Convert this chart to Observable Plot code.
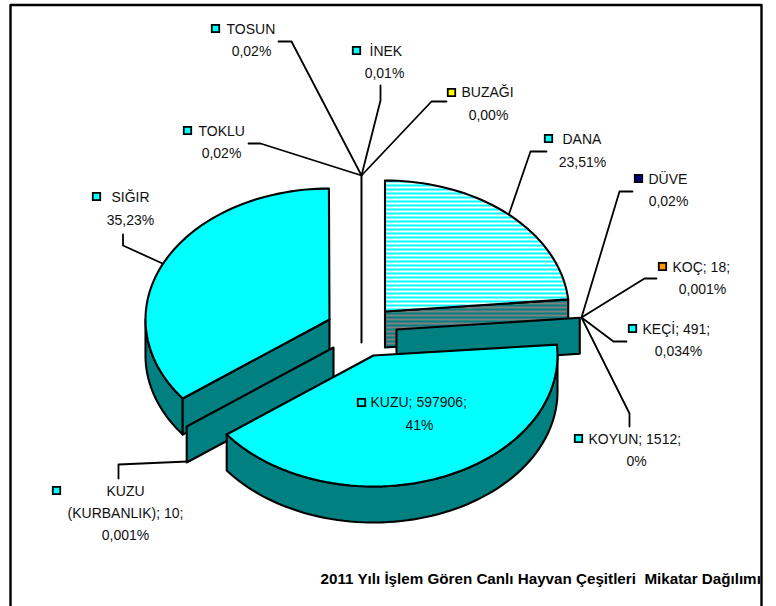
<!DOCTYPE html>
<html><head><meta charset="utf-8">
<script src="https://cdn.jsdelivr.net/npm/d3@7"></script>
<script src="https://cdn.jsdelivr.net/npm/@observablehq/plot@0.6"></script>
<style>html,body{margin:0;padding:0;background:#fff}svg{display:block}</style>
</head><body><div id="chart"></div>
<script>
// Data: slice order follows the pie, clockwise from 12 o'clock
const categories = ["DANA","DÜVE","KOÇ","KEÇİ","KOYUN","KUZU","KUZU (KURBANLIK)","SIĞIR","TOKLU","TOSUN","İNEK","BUZAĞI"];
const shares = [23.51,0.02,0.001,0.034,0.104,41,0.001,35.23,0.02,0.02,0.01,0.001];
const keyColors = ["#00ffff","#000080","#ff9900","#00ffff","#00ffff","#00ffff","#00ffff","#00ffff","#00ffff","#00ffff","#00ffff","#ffff00"];

// Layout
const W = 776, H = 606, rx = 184, ry = 131, depth = 36;
const explodeCenters = [[384.5,311],[396,329],[396,329],[396,329],[396,329],[373,355],[333,347],[329,319],[361,306],[361,306],[361,306],[361,306]];
const labelLines = [
  [[562,139,"start","DANA"],[582,162,"middle","23,51%"]],
  [[648,179,"start","DÜVE"],[668,201,"middle","0,02%"]],
  [[672,267,"start","KOÇ; 18;"],[702,289,"middle","0,001%"]],
  [[642,329,"start","KEÇİ; 491;"],[678,351,"middle","0,034%"]],
  [[588,439,"start","KOYUN; 1512;"],[636,461,"middle","0%"]],
  [[370,402,"start","KUZU; 597906;"],[419,425,"middle","41%"]],
  [[125,491,"middle","KUZU"],[125,513,"middle","(KURBANLIK); 10;"],[125,535,"middle","0,001%"]],
  [[111,197,"start","SIĞIR"],[130,220,"middle","35,23%"]],
  [[198,131,"start","TOKLU"],[221,153,"middle","0,02%"]],
  [[226,29,"start","TOSUN"],[251,51,"middle","0,02%"]],
  [[369,51,"start","İNEK"],[384,73,"middle","0,01%"]],
  [[461,92,"start","BUZAĞI"],[488,115,"middle","0,00%"]]
];
const keyAt = [[548,138],[638,178],[662,266],[632,328],[578,438],[361,402],[56,490],[96,196],[187,130],[215,28],[356,50],[451,92]];
const leaders = [
  [[546,151],[530,151],[508,215]],
  [[632,191],[619,191],[581,317]],
  [[656,278],[644,278],[581,317]],
  [[626,341],[613,341],[581,317]],
  [[629,426],[629,413],[581,317]],
  null,
  [[118,478],[118,464],[187,461]],
  [[122.5,234],[122.5,245],[162,263]],
  [[248,143],[260,143],[361,175]],
  [[278,41],[291,41],[361,175]],
  [[380,85],[380,100],[361,175]],
  [[446,101],[431,101],[361,175]]
];
const frame = [[10,H],[10,4.5],[761,4.5],[761,H]];

// Sector geometry from the values
const arcs = d3.pie().sort(null).value(d => d)(shares);
const pt = (a, c, dy = 0) => [c[0] + rx * Math.sin(a), c[1] - ry * Math.cos(a) + dy];
function arcPts(a0, a1, c, dy = 0) {
  const n = Math.max(1, Math.ceil(Math.abs(a1 - a0) / 0.035));
  return d3.range(n + 1).map(i => pt(a0 + (a1 - a0) * i / n, c, dy));
}
const topFace = (a, c) => [c, ...arcPts(a.startAngle, a.endAngle, c)];
const radialWall = (ang, c) => { const o = pt(ang, c); return [c, o, [o[0], o[1] + depth], [c[0], c[1] + depth]]; };
function rimWall(a, c) {
  const lo = Math.max(a.startAngle, Math.PI / 2), hi = Math.min(a.endAngle, 3 * Math.PI / 2);
  if (hi <= lo) return null;
  return [...arcPts(lo, hi, c), ...arcPts(hi, lo, c, depth)];
}

const teal = "#008080", cyan = "#00ffff";
const shape = (pts, fill) => Plot.line(pts, {x: d => d[0], y: d => d[1], curve: "linear-closed", fill, stroke: "#000", strokeWidth: 2.1, strokeLinejoin: "round"});
const marks = [];

// Pattern definitions
marks.push(() => {
  const ns = "http://www.w3.org/2000/svg";
  const defs = document.createElementNS(ns, "defs");
  const mk = (id, a, b) => {
    const p = document.createElementNS(ns, "pattern");
    p.setAttribute("id", id); p.setAttribute("width", 4); p.setAttribute("height", 4);
    p.setAttribute("patternUnits", "userSpaceOnUse");
    [[a, 0, 2], [b, 2, 2]].forEach(([f, y, h]) => {
      const r = document.createElementNS(ns, "rect");
      r.setAttribute("width", 4); r.setAttribute("y", y); r.setAttribute("height", h); r.setAttribute("fill", f);
      p.appendChild(r);
    });
    defs.appendChild(p);
  };
  mk("danaTop", cyan, "#ffffff");
  mk("danaWall", teal, "#808080");
  return defs;
});

// Leaders
leaders.forEach(l => { if (l) marks.push(Plot.line(l, {x: d => d[0], y: d => d[1], stroke: "#000", strokeWidth: 1.8})); });

// The thin slices at the top collapse to one vertical edge
{
  const c = explodeCenters[11], wall = radialWall(arcs[11].startAngle, c);
  marks.push(Plot.line([wall[1], wall[3]], {x: d => d[0], y: d => d[1], stroke: "#000", strokeWidth: 2}));
}

// SIĞIR
{
  const i = 7, a = arcs[i], c = explodeCenters[i];
  marks.push(shape(rimWall(a, c), teal));
  marks.push(shape(radialWall(a.startAngle, c), teal));
  marks.push(shape(topFace(a, c), cyan));
}
// DANA
{
  const i = 0, a = arcs[i], c = explodeCenters[i];
  marks.push(shape(radialWall(a.endAngle, c), "url(#danaWall)"));
  marks.push(shape(topFace(a, c), "url(#danaTop)"));
}
// Thin slices on the right and lower left
marks.push(shape(radialWall(arcs[4].startAngle, explodeCenters[4]), teal));
marks.push(shape(radialWall(arcs[6].startAngle, explodeCenters[6]), teal));
// KUZU
{
  const i = 5, a = arcs[i], c = explodeCenters[i];
  marks.push(shape(rimWall(a, c), teal));
  marks.push(shape(topFace(a, c), cyan));
}

// Legend keys and labels
const keyRows = categories.map((name, i) => ({name, x: keyAt[i][0], y: keyAt[i][1], color: keyColors[i]}));
marks.push(Plot.dot(keyRows, {x: "x", y: "y", symbol: "square", r: 4.2, fill: "color", stroke: "#000", strokeWidth: 1.8}));
const textRows = labelLines.flat().map(([x, y, anchor, text]) => ({x, y, anchor, text}));
["start", "middle"].forEach(anchor => marks.push(Plot.text(textRows.filter(d => d.anchor === anchor), {
  x: "x", y: "y", text: "text", textAnchor: anchor, fontSize: 14, fill: "#111"
})));
marks.push(Plot.text(["2011 Yılı İşlem Gören Canlı Hayvan Çeşitleri  Mikatar Dağılımı"], {
  x: [320], y: [579], text: d => d, textAnchor: "start", fontSize: 15.2, fontWeight: "bold", fill: "#000"
}));
marks.push(Plot.line(frame, {x: d => d[0], y: d => d[1], stroke: "#000", strokeWidth: 2.4}));

const chart = Plot.plot({
  width: W, height: H, margin: 0,
  x: {domain: [0, W], range: [0, W], axis: null},
  y: {domain: [0, H], range: [0, H], axis: null},
  style: {fontFamily: "'Liberation Sans', Arial, sans-serif", background: "#fff", overflow: "hidden"},
  marks
});
document.getElementById("chart").appendChild(chart);
</script></body></html>
